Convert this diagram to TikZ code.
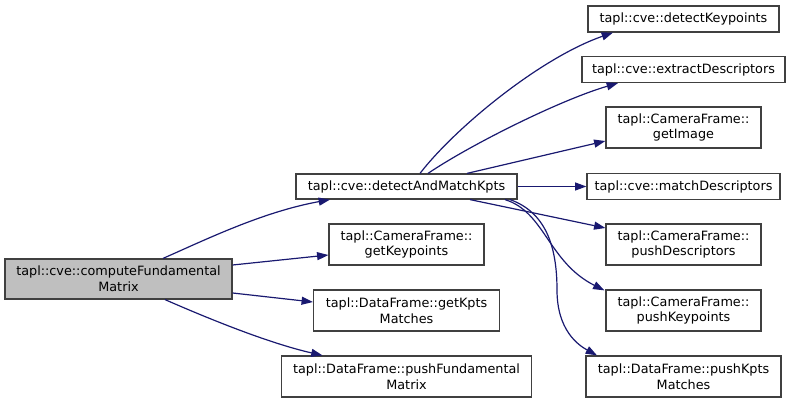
\documentclass[tikz,border=0pt]{standalone}
\usepackage{fontspec}
\setmainfont{DejaVu Sans}
\usetikzlibrary{arrows.meta,calc}
\definecolor{edgeblue}{RGB}{25,25,112}
\definecolor{boxgray}{RGB}{64,64,64}
\definecolor{rootfill}{RGB}{191,191,191}
\begin{document}
\begin{tikzpicture}[x=0.75pt,y=-0.75pt,
  fbox/.style={draw=boxgray,line width=0.9pt,fill=white,inner sep=0pt,align=center,
    font=\fontsize{9.6pt}{11.8pt}\selectfont},
  edge/.style={draw=edgeblue,line width=0.9pt,-{Triangle[length=8.5pt,width=6pt]}}]
\useasboundingbox (0,0) rectangle (792,402);
% nodes
\node[fbox,fill=rootfill,minimum width={227*0.75pt},minimum height={40*0.75pt}] (root) at (118.5,279) {tapl::cve::computeFundamental\\Matrix};
\node[fbox,minimum width={221*0.75pt},minimum height={25*0.75pt}] (detect) at (406.5,186.5) {tapl::cve::detectAndMatchKpts};
\node[fbox,minimum width={155*0.75pt},minimum height={41*0.75pt}] (getkp) at (406.5,244.5) {tapl::CameraFrame::\\getKeypoints};
\node[fbox,minimum width={186*0.75pt},minimum height={41*0.75pt}] (getkm) at (406.5,310.5) {tapl::DataFrame::getKpts\\Matches};
\node[fbox,minimum width={250*0.75pt},minimum height={41*0.75pt}] (pushfm) at (406.5,376.5) {tapl::DataFrame::pushFundamental\\Matrix};
\node[fbox,minimum width={191*0.75pt},minimum height={26*0.75pt}] (detkp) at (683.5,19) {tapl::cve::detectKeypoints};
\node[fbox,minimum width={203*0.75pt},minimum height={26*0.75pt}] (extd) at (683.5,69.5) {tapl::cve::extractDescriptors};
\node[fbox,minimum width={155*0.75pt},minimum height={41*0.75pt}] (getim) at (683.5,127.5) {tapl::CameraFrame::\\getImage};
\node[fbox,minimum width={193*0.75pt},minimum height={26*0.75pt}] (matchd) at (683.5,186.5) {tapl::cve::matchDescriptors};
\node[fbox,minimum width={155*0.75pt},minimum height={41*0.75pt}] (pushd) at (683.5,244.5) {tapl::CameraFrame::\\pushDescriptors};
\node[fbox,minimum width={155*0.75pt},minimum height={41*0.75pt}] (pushkp) at (683.5,310.5) {tapl::CameraFrame::\\pushKeypoints};
\node[fbox,minimum width={195*0.75pt},minimum height={41*0.75pt}] (pushkm) at (683.5,376.5) {tapl::DataFrame::pushKpts\\Matches};
% edges from root
\draw[edge] ($(root.north)+(44.5,0)$) .. controls (205,240) and (262,212) .. ($(detect.south)+(-76.5,0)$);
\draw[edge] ($(root.east)+(0,-14)$) -- ($(getkp.west)+(0,10.5)$);
\draw[edge] ($(root.east)+(0,14)$) -- ($(getkm.west)+(0,-8.5)$);
\draw[edge] ($(root.south)+(46.5,0)$) .. controls (207,318) and (268,343) .. ($(pushfm.north)+(-84,0)$);
% edges from detect
\draw[edge] ($(detect.north)+(13.5,0)$) .. controls (455,128) and (540,58) .. ($(detkp.south)+(-70.5,0)$);
\draw[edge] ($(detect.north)+(21.5,0)$) .. controls (470,145) and (560,100) .. ($(extd.south)+(-65.5,0)$);
\draw[edge] ($(detect.north)+(60.5,0)$) -- ($(getim.west)+(0,13.5)$);
\draw[edge] (detect.east) -- (matchd.west);
\draw[edge] ($(detect.south)+(63.5,0)$) -- ($(pushd.west)+(0,-16.5)$);
\draw[edge] ($(detect.south)+(98.5,0)$) .. controls (545,212) and (548,262) .. ($(pushkp.north west)+(-1,1)$);
\draw[edge] ($(detect.south)+(103.5,0)$) .. controls (545,212) and (557,245) .. (557,290) .. controls (557,330) and (578,345) .. ($(pushkm.north)+(-86.5,0)$);
\end{tikzpicture}
\end{document}
